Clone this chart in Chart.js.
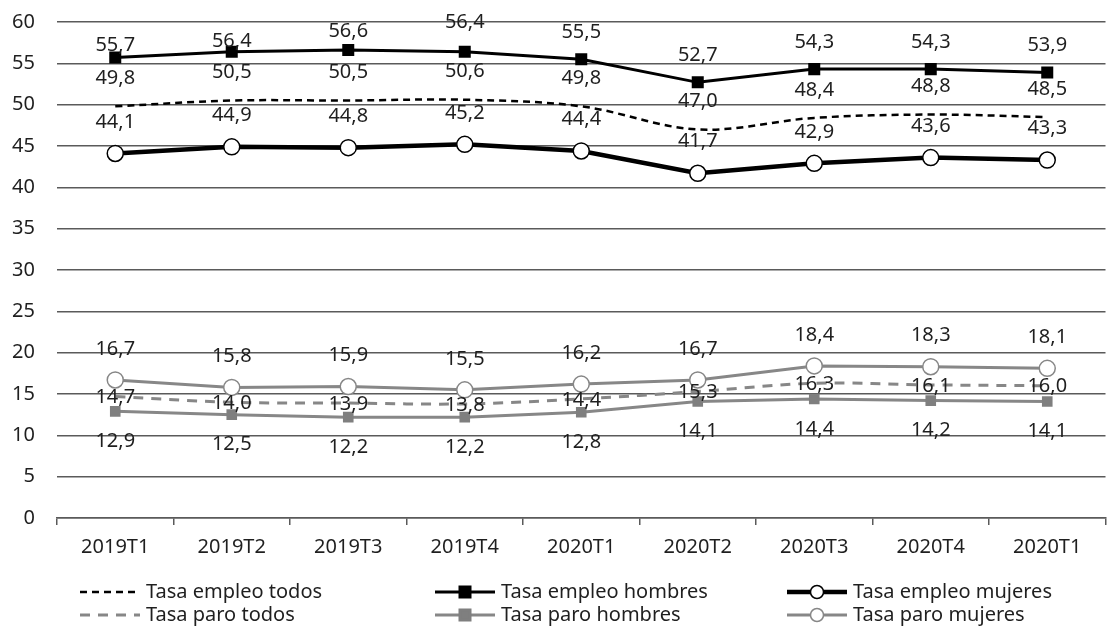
<!DOCTYPE html>
<html>
<head>
<meta charset="utf-8">
<script src="https://cdn.jsdelivr.net/npm/chart.js@4.4.1/dist/chart.umd.min.js"></script>
<style>
  html, body { margin: 0; padding: 0; background: #ffffff; }
  #wrap { width: 1115px; height: 627px; }
</style>
</head>
<body>
<div id="wrap"><canvas id="c" width="1115" height="627"></canvas></div>
<script>
// Quarters shown on the horizontal axis
const periods = ['2019T1', '2019T2', '2019T3', '2019T4', '2020T1', '2020T2', '2020T3', '2020T4', '2020T1'];

// Employment rates (%)
const empleoTodos   = [49.8, 50.5, 50.5, 50.6, 49.8, 47.0, 48.4, 48.8, 48.5];
const empleoHombres = [55.7, 56.4, 56.6, 56.4, 55.5, 52.7, 54.3, 54.3, 53.9];
const empleoMujeres = [44.1, 44.9, 44.8, 45.2, 44.4, 41.7, 42.9, 43.6, 43.3];

// Unemployment rates (%)
const paroTodos   = [14.7, 14.0, 13.9, 13.8, 14.4, 15.3, 16.3, 16.1, 16.0];
const paroHombres = [12.9, 12.5, 12.2, 12.2, 12.8, 14.1, 14.4, 14.2, 14.1];
const paroMujeres = [16.7, 15.8, 15.9, 15.5, 16.2, 16.7, 18.4, 18.3, 18.1];

// Y axis range
const yMin = 0, yMax = 60, yStep = 5;

const FONT = '"Noto Sans", "Open Sans", sans-serif';
const TEXT = '#1f1f1f';
const GREY = '#878787';
const GRID = '#5a5a5a';

Chart.defaults.font.family = FONT;
Chart.defaults.color = TEXT;

const fmt = v => v.toFixed(1).replace('.', ',');

// Value labels next to each point; labelDy is the vertical shift in px
const valueLabels = {
  id: 'valueLabels',
  afterDatasetsDraw(chart) {
    const ctx = chart.ctx;
    ctx.save();
    ctx.font = '20px ' + FONT;
    ctx.fillStyle = TEXT;
    ctx.textAlign = 'center';
    ctx.textBaseline = 'middle';
    chart.data.datasets.forEach((ds, di) => {
      const meta = chart.getDatasetMeta(di);
      meta.data.forEach((pt, i) => {
        const dy = Array.isArray(ds.labelDy) ? ds.labelDy[i] : ds.labelDy;
        ctx.fillText(fmt(ds.data[i]), pt.x, pt.y + dy);
      });
    });
    ctx.restore();
  }
};

// Legend in three columns and two rows, each sample drawn as line + marker
const lineLegend = {
  id: 'lineLegend',
  afterDraw(chart) {
    const ctx = chart.ctx;
    const cols = [80, 435, 787];
    const rows = [592, 615];
    const sampleW = 60;
    ctx.save();
    ctx.font = '20px ' + FONT;
    ctx.textBaseline = 'middle';
    ctx.textAlign = 'left';
    chart.data.datasets.forEach((ds, di) => {
      const col = di % 3, row = Math.floor(di / 3);
      const x0 = cols[col], y = rows[row];
      ctx.save();
      ctx.strokeStyle = ds.borderColor;
      ctx.lineWidth = ds.borderWidth;
      ctx.setLineDash(ds.borderDash || []);
      ctx.beginPath();
      ctx.moveTo(x0, y);
      ctx.lineTo(x0 + sampleW, y);
      ctx.stroke();
      ctx.setLineDash([]);
      const cx = x0 + sampleW / 2;
      if (ds.pointRadius > 0) {
        ctx.fillStyle = ds.pointBackgroundColor;
        ctx.strokeStyle = ds.pointBorderColor;
        ctx.lineWidth = ds.pointBorderWidth;
        ctx.beginPath();
        if (ds.pointStyle === 'rect') {
          ctx.rect(cx - 5, y - 5, 10, 10);
        } else {
          ctx.arc(cx, y, 6.5, 0, Math.PI * 2);
        }
        ctx.fill();
        ctx.stroke();
      }
      ctx.restore();
      ctx.fillStyle = TEXT;
      ctx.fillText(ds.label, x0 + sampleW + 6, y);
    });
    ctx.restore();
  }
};

new Chart(document.getElementById('c'), {
  type: 'line',
  data: {
    labels: periods,
    datasets: [
      {
        label: 'Tasa empleo todos',
        data: empleoTodos,
        borderColor: '#000000',
        borderWidth: 2.5,
        borderDash: [7, 5],
        tension: 0.35,
        pointRadius: 0,
        pointHoverRadius: 0,
        labelDy: -28
      },
      {
        label: 'Tasa empleo hombres',
        data: empleoHombres,
        borderColor: '#000000',
        borderWidth: 3,
        pointStyle: 'rect',
        pointRadius: 8.5,
        pointBackgroundColor: '#000000',
        pointBorderColor: '#000000',
        pointBorderWidth: 0,
        labelDy: [-12.5, -10, -19, -29, -27, -27, -27, -27, -27]
      },
      {
        label: 'Tasa empleo mujeres',
        data: empleoMujeres,
        borderColor: '#000000',
        borderWidth: 4.5,
        pointStyle: 'circle',
        pointRadius: 8,
        pointBackgroundColor: '#ffffff',
        pointBorderColor: '#000000',
        pointBorderWidth: 1.5,
        labelDy: -31.5
      },
      {
        label: 'Tasa paro todos',
        data: paroTodos,
        borderColor: GREY,
        borderWidth: 3,
        borderDash: [10, 8],
        tension: 0.35,
        pointRadius: 0,
        pointHoverRadius: 0,
        labelDy: 1
      },
      {
        label: 'Tasa paro hombres',
        data: paroHombres,
        borderColor: GREY,
        borderWidth: 3,
        pointStyle: 'rect',
        pointRadius: 7.5,
        pointBackgroundColor: '#7f7f7f',
        pointBorderColor: '#7f7f7f',
        pointBorderWidth: 0,
        labelDy: 30
      },
      {
        label: 'Tasa paro mujeres',
        data: paroMujeres,
        borderColor: GREY,
        borderWidth: 3,
        pointStyle: 'circle',
        pointRadius: 8,
        pointBackgroundColor: '#ffffff',
        pointBorderColor: GREY,
        pointBorderWidth: 1.5,
        labelDy: -31
      }
    ]
  },
  options: {
    responsive: false,
    animation: false,
    events: [],
    layout: { padding: { left: 0, top: 22, right: 2, bottom: 0 } },
    plugins: {
      legend: { display: false },
      tooltip: { enabled: false }
    },
    scales: {
      x: {
        offset: true,
        grid: {
          offset: true,
          drawOnChartArea: false,
          drawTicks: true,
          tickLength: 7,
          color: GRID,
          lineWidth: 1.5
        },
        border: { display: true, color: GRID, width: 1.5 },
        ticks: { font: { size: 20 }, color: TEXT, padding: 10, maxRotation: 0, autoSkip: false },
        afterFit(scale) {
          scale.height = 109;
          scale.paddingLeft = 0;
          scale.paddingRight = 0;
        }
      },
      y: {
        min: yMin,
        max: yMax,
        ticks: { stepSize: yStep, font: { size: 20 }, color: TEXT, padding: 22 },
        grid: { color: GRID, lineWidth: 1.5, drawTicks: false },
        border: { display: false },
        afterFit(scale) {
          scale.width = 57;
          scale.paddingTop = 0;
          scale.paddingBottom = 0;
        }
      }
    }
  },
  plugins: [valueLabels, lineLegend]
});
</script>
</body>
</html>
